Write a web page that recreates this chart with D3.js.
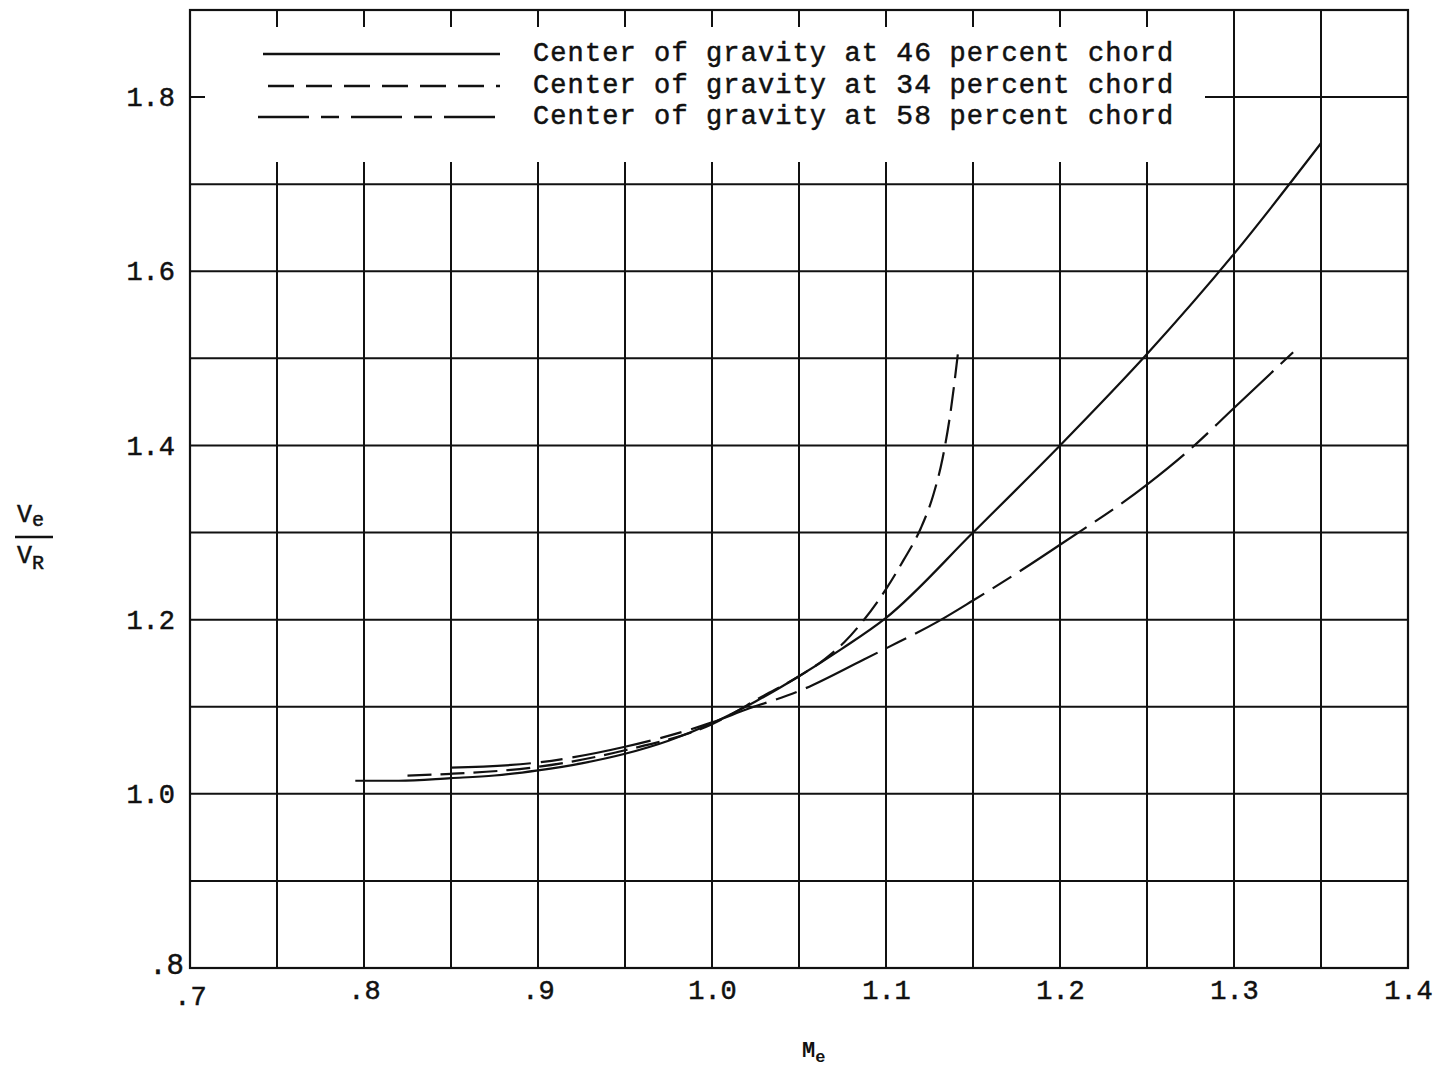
<!DOCTYPE html>
<html>
<head>
<meta charset="utf-8">
<script src="https://cdn.jsdelivr.net/npm/d3@7"></script>
<style>
  html, body { margin: 0; padding: 0; background: #fff; }
  svg text { font-family: "Liberation Mono", "Courier New", monospace; fill: #111; }
</style>
</head>
<body>
<div id="chart"></div>
<script>
// values (Mach number vs velocity ratio)
const cg46 = [
    [0.795, 1.015], [0.82, 1.015], [0.85, 1.018], [0.875, 1.021], [0.9, 1.027],
    [0.925, 1.035], [0.95, 1.046], [0.975, 1.061], [1.0, 1.081], [1.025, 1.106],
    [1.05, 1.135], [1.075, 1.167], [1.1, 1.202], [1.15, 1.30], [1.2, 1.40],
    [1.25, 1.505], [1.3, 1.62], [1.35, 1.747]
];
const cg34 = [
    [0.825, 1.021], [0.85, 1.023], [0.9, 1.031], [0.95, 1.05], [1.0, 1.08],
    [1.03, 1.113], [1.05, 1.135], [1.065, 1.155], [1.076, 1.174], [1.087, 1.199],
    [1.1, 1.235], [1.11, 1.268], [1.12, 1.305], [1.127, 1.342], [1.1325, 1.385],
    [1.137, 1.437], [1.1417, 1.512]
];
const cg58 = [
    [0.85, 1.030], [0.9, 1.036], [0.95, 1.054], [1.0, 1.082], [1.02, 1.097],
    [1.05, 1.118], [1.087, 1.154], [1.1, 1.167], [1.13, 1.198], [1.15, 1.222],
    [1.178, 1.257], [1.2, 1.286], [1.25, 1.355], [1.275, 1.396], [1.3, 1.443],
    [1.334, 1.507]
];
const legendLabels = [
    ['Center of gravity at ', '46', ' percent chord'],
    ['Center of gravity at ', '34', ' percent chord'],
    ['Center of gravity at ', '58', ' percent chord']
];
const xTicks = [0.7, 0.8, 0.9, 1.0, 1.1, 1.2, 1.3, 1.4];
const xTickLabels = ['.7', '.8', '.9', '1.0', '1.1', '1.2', '1.3', '1.4'];
const yTicks = [0.8, 1.0, 1.2, 1.4, 1.6, 1.8];
const yTickLabels = ['.8', '1.0', '1.2', '1.4', '1.6', '1.8'];

const width = 1439, height = 1066;
const margin = { top: 10, right: 31, bottom: 98, left: 190 };

const svg = d3.select('#chart').append('svg')
    .attr('width', width)
    .attr('height', height);

const x = d3.scaleLinear()
    .domain([0.7, 1.4])
    .range([margin.left, width - margin.right]);
const y = d3.scaleLinear()
    .domain([0.8, 1.9])
    .range([height - margin.bottom, margin.top]);

const ink = '#111';

// grid
const grid = svg.append('g').attr('stroke', ink).attr('stroke-width', 2);
grid.selectAll('.vx')
    .data(d3.range(15).map(i => 0.7 + i * 0.05).slice(1, 14))
    .join('line')
    .attr('x1', d => x(d)).attr('x2', d => x(d))
    .attr('y1', y(1.9)).attr('y2', y(0.8));
grid.selectAll('.hy')
    .data(d3.range(12).map(i => 0.8 + i * 0.1).slice(1, 11))
    .join('line')
    .attr('x1', x(0.7)).attr('x2', x(1.4))
    .attr('y1', d => y(d)).attr('y2', d => y(d));

// legend box masks the grid
svg.append('rect')
    .attr('x', 205).attr('y', 27)
    .attr('width', 1000).attr('height', 135)
    .attr('fill', '#fff');

// frame
svg.append('rect')
    .attr('x', x(0.7)).attr('y', y(1.9))
    .attr('width', x(1.4) - x(0.7)).attr('height', y(0.8) - y(1.9))
    .attr('fill', 'none').attr('stroke', ink).attr('stroke-width', 2.2);

// curves
const line = d3.line()
    .x(d => x(d[0]))
    .y(d => y(d[1]))
    .curve(d3.curveMonotoneX);

const series = [
    { data: cg46, dash: null },
    { data: cg34, dash: '24,9' },
    { data: cg58, dash: '80,10,22,10' }
];
series.forEach(s => {
    svg.append('path')
        .datum(s.data)
        .attr('d', line)
        .attr('fill', 'none')
        .attr('stroke', ink)
        .attr('stroke-width', 2.2)
        .attr('stroke-dasharray', s.dash);
});

// axes labels
const xAxis = d3.axisBottom(x)
    .tickValues(xTicks)
    .tickFormat((d, i) => xTickLabels[i])
    .tickSize(0)
    .tickPadding(12);
const gx = svg.append('g')
    .attr('transform', `translate(0,${y(0.8)})`)
    .call(xAxis);
gx.select('.domain').remove();
gx.selectAll('text')
    .attr('font-size', 27)
    .attr('dy', '0.71em')
    .attr('stroke', ink).attr('stroke-width', 0.5)
    .attr('font-family', '"Liberation Mono", monospace');
gx.selectAll('.tick').filter(d => d === 0.7).select('text')
    .attr('transform', 'translate(0,6)');

const yAxis = d3.axisLeft(y)
    .tickValues(yTicks)
    .tickFormat((d, i) => yTickLabels[i])
    .tickSize(0)
    .tickPadding(15);
const gy = svg.append('g')
    .attr('transform', `translate(${x(0.7)},0)`)
    .call(yAxis);
gy.select('.domain').remove();
gy.selectAll('text')
    .attr('font-size', 27)
    .attr('stroke', ink).attr('stroke-width', 0.5)
    .attr('font-family', '"Liberation Mono", monospace');
gy.selectAll('.tick').filter(d => d === 0.8).select('text')
    .attr('font-size', 29)
    .attr('transform', 'translate(9,-4)');

// legend
const legend = svg.append('g');
const legendRows = [
    { y: 54, x1: 263, x2: 500, dash: null },
    { y: 86, x1: 268, x2: 500, dash: '26,12' },
    { y: 117, x1: 258, x2: 506, dash: '51,12,18,12' }
];
legendRows.forEach((r, i) => {
    legend.append('line')
        .attr('x1', r.x1).attr('x2', r.x2)
        .attr('y1', r.y).attr('y2', r.y)
        .attr('stroke', ink).attr('stroke-width', 2.4)
        .attr('stroke-dasharray', r.dash);
    const t = legend.append('text')
        .attr('x', 533).attr('y', r.y + 7)
        .attr('font-size', 27)
        .attr('letter-spacing', 1.1)
        .attr('stroke', ink).attr('stroke-width', 0.5)
        .style('white-space', 'pre');
    t.append('tspan').text(legendLabels[i][0]);
    t.append('tspan').attr('font-size', 28).text(legendLabels[i][1]);
    t.append('tspan').text(legendLabels[i][2]);
});

// y title: Ve / VR
const yt = svg.append('g').attr('stroke', ink).attr('stroke-width', 0.5);
const t1 = yt.append('text').attr('x', 17).attr('y', 522).attr('font-size', 25);
t1.append('tspan').text('V');
t1.append('tspan').attr('font-size', 20).attr('dy', 4).text('e');
yt.append('line')
    .attr('x1', 15).attr('x2', 53)
    .attr('y1', 537).attr('y2', 537)
    .attr('stroke-width', 2.4);
const t2 = yt.append('text').attr('x', 17).attr('y', 563).attr('font-size', 25);
t2.append('tspan').text('V');
t2.append('tspan').attr('font-size', 20).attr('dy', 6).text('R');

// x title: Me
const xt = svg.append('text')
    .attr('x', 802).attr('y', 1057)
    .attr('font-size', 22).attr('font-weight', 'bold');
xt.append('tspan').text('M');
xt.append('tspan').attr('font-size', 17).attr('dy', 5).text('e');
</script>
</body>
</html>
